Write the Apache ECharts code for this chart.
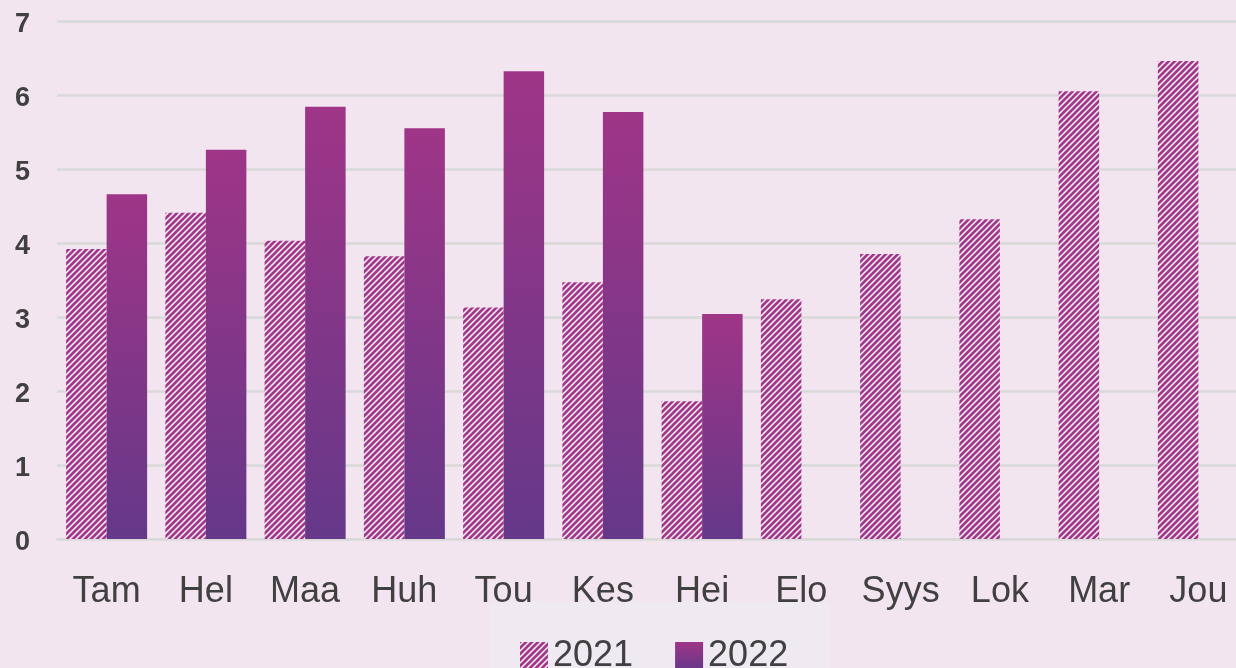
<!DOCTYPE html>
<html>
<head>
<meta charset="utf-8">
<script src="https://cdn.jsdelivr.net/npm/echarts@6/dist/echarts.min.js"></script>
<style>
  html, body { margin: 0; padding: 0; background: #f2e5ef; }
  #chart { width: 1236px; height: 668px; }
</style>
</head>
<body>
<div id="chart"></div>
<script>
var months = ['Tam', 'Hel', 'Maa', 'Huh', 'Tou', 'Kes', 'Hei', 'Elo', 'Syys', 'Lok', 'Mar', 'Jou'];
var values2021 = [3.92, 4.41, 4.03, 3.82, 3.13, 3.47, 1.86, 3.24, 3.85, 4.32, 6.05, 6.46];
var values2022 = [4.66, 5.26, 5.84, 5.55, 6.32, 5.77, 3.04, null, null, null, null, null];
var yTicks = [0, 7, 1]; // min, max, step

// diagonal stripe pattern for 2021
function stripes() {
    var c = document.createElement('canvas');
    c.width = 6;
    c.height = 6;
    var ctx = c.getContext('2d');
    ctx.fillStyle = '#ffffff';
    ctx.fillRect(0, 0, 6, 6);
    ctx.strokeStyle = '#a5358d';
    ctx.lineWidth = 2.8;
    ctx.beginPath();
    ctx.moveTo(-1, 1); ctx.lineTo(1, -1);
    ctx.moveTo(0, 6); ctx.lineTo(6, 0);
    ctx.moveTo(5, 7); ctx.lineTo(7, 5);
    ctx.stroke();
    return c;
}

var chart = echarts.init(document.getElementById('chart'));
window.onresize = function () {
    chart.resize();
};

var option = {
    backgroundColor: '#f2e5ef',
    animation: false,
    grid: {
        left: 57,
        right: -12,
        top: 21,
        bottom: 129,
        outerBoundsMode: 'none'
    },
    legend: {
        data: ['2021', '2022'],
        icon: 'rect',
        left: 490,
        top: 602,
        backgroundColor: '#efe9f2',
        padding: [36, 42, 36, 30],
        itemWidth: 28,
        itemHeight: 28,
        itemGap: 42,
        textStyle: {
            fontFamily: 'Liberation Sans',
            fontSize: 36,
            color: '#404040'
        }
    },
    xAxis: {
        type: 'category',
        data: months,
        axisTick: { show: false },
        axisLine: { lineStyle: { color: '#d9d9d9', width: 2 } },
        axisLabel: {
            interval: 0,
            margin: 35,
            fontFamily: 'Liberation Sans',
            fontSize: 36,
            color: '#404040'
        }
    },
    yAxis: {
        type: 'value',
        min: yTicks[0],
        max: yTicks[1],
        interval: yTicks[2],
        axisLine: { show: false },
        axisTick: { show: false },
        splitLine: { lineStyle: { color: '#d9d9d9', width: 2.5 } },
        axisLabel: {
            margin: 27,
            formatter: '{v|{value}}',
            rich: {
                v: {
                    padding: [7, 0, 0, 0],
                    fontFamily: 'Liberation Sans',
                    fontWeight: 'bold',
                    fontSize: 27,
                    color: '#404040'
                }
            }
        }
    },
    series: [{
        name: '2021',
        type: 'bar',
        barWidth: 40.5,
        barGap: '0%',
        data: values2021,
        itemStyle: {
            color: { image: stripes(), repeat: 'repeat' }
        }
    }, {
        name: '2022',
        type: 'bar',
        barWidth: 40.5,
        data: values2022,
        itemStyle: {
            color: new echarts.graphic.LinearGradient(0, 0, 0, 1, [
                { offset: 0, color: '#9f3587' },
                { offset: 1, color: '#653889' }
            ])
        }
    }]
};
chart.setOption(option);
</script>
</body>
</html>
